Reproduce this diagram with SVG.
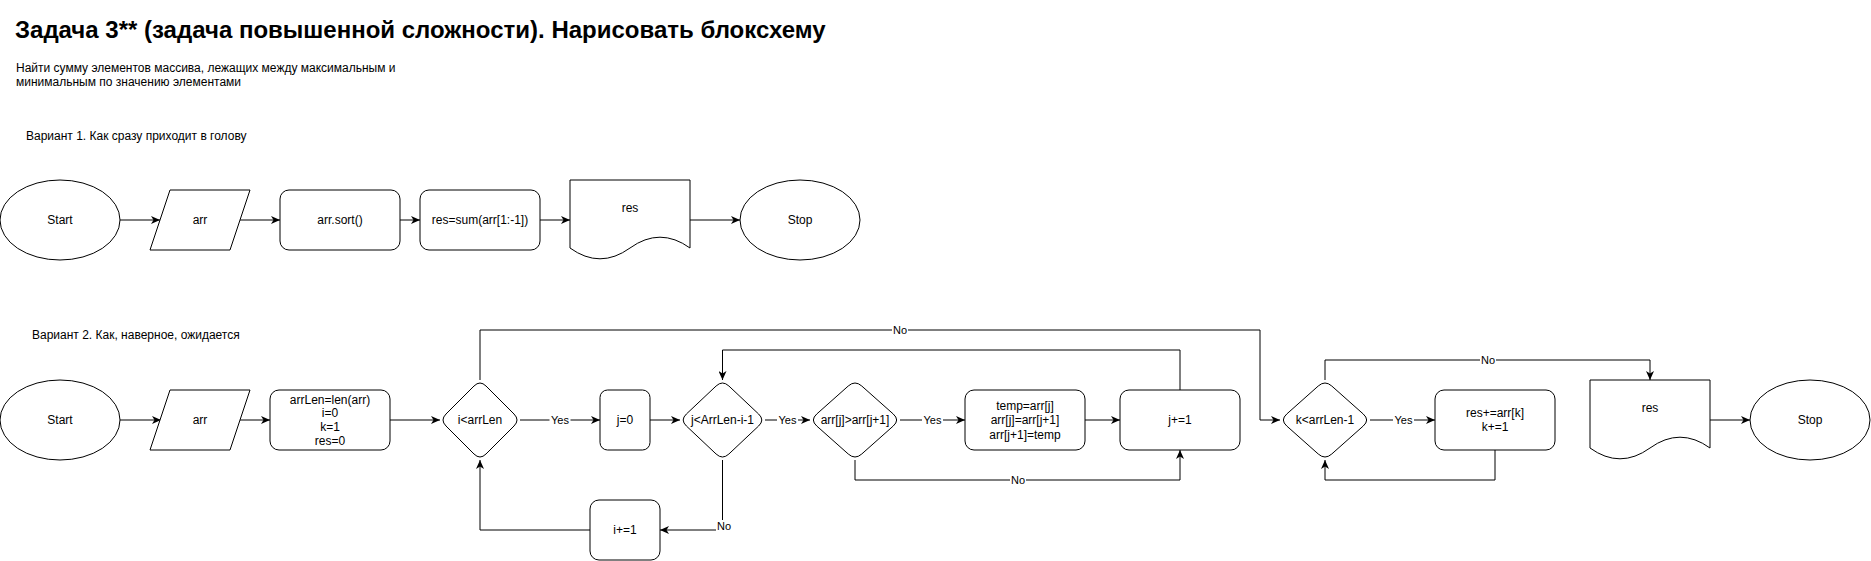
<svg xmlns="http://www.w3.org/2000/svg" width="1871" height="561" viewBox="0 0 1871 561">
<style>
.n{fill:#fff;stroke:#000;stroke-width:1}
.e{fill:none;stroke:#000;stroke-width:1}
.t{font-family:"Liberation Sans",Arial,sans-serif;font-size:12px;fill:#000;text-anchor:middle}
.l{font-family:"Liberation Sans",Arial,sans-serif;font-size:11px;fill:#000;text-anchor:middle}
.h{font-family:"Liberation Sans",Arial,sans-serif;fill:#000}
.bg{fill:#fff;stroke:none}
</style>
<defs>
<marker id="ar" viewBox="0 0 10 8" refX="9" refY="4" markerWidth="10" markerHeight="8" markerUnits="userSpaceOnUse" orient="auto">
<path d="M0,0 L9,4 L0,8 L2.5,4 Z" fill="#000"/>
</marker>
</defs>
<rect x="0" y="0" width="1871" height="561" fill="#fff"/>
<g id="texts">
<text class="h" x="15" y="38" font-size="24" font-weight="bold">Задача 3** (задача повышенной сложности). Нарисовать блоксхему</text>
<text class="h" x="16" y="72" font-size="12">Найти сумму элементов массива, лежащих между максимальным и</text>
<text class="h" x="16" y="86" font-size="12">минимальным по значению элементами</text>
<text class="h" x="26" y="140" font-size="12">Вариант 1. Как сразу приходит в голову</text>
<text class="h" x="32" y="339" font-size="12">Вариант 2. Как, наверное, ожидается</text>
</g>
<g id="connectors">
<path class="e" d="M120,220 H160" marker-end="url(#ar)"/>
<path class="e" d="M240,220 H280" marker-end="url(#ar)"/>
<path class="e" d="M400,220 H420" marker-end="url(#ar)"/>
<path class="e" d="M540,220 H570" marker-end="url(#ar)"/>
<path class="e" d="M690,220 H740" marker-end="url(#ar)"/>
<path class="e" d="M120,420 H161" marker-end="url(#ar)"/>
<path class="e" d="M240,420 H270" marker-end="url(#ar)"/>
<path class="e" d="M390,420 H440" marker-end="url(#ar)"/>
<path class="e" d="M520,420 H600" marker-end="url(#ar)"/>
<path class="e" d="M650,420 H680" marker-end="url(#ar)"/>
<path class="e" d="M765,420 H810" marker-end="url(#ar)"/>
<path class="e" d="M900,420 H965" marker-end="url(#ar)"/>
<path class="e" d="M1085,420 H1120" marker-end="url(#ar)"/>
<path class="e" d="M1180,390 V350 H722.5 V380" marker-end="url(#ar)"/>
<path class="e" d="M855,460 V480 H1180 V450" marker-end="url(#ar)"/>
<path class="e" d="M722.5,460 V530 H660" marker-end="url(#ar)"/>
<path class="e" d="M590,530 H480 V460" marker-end="url(#ar)"/>
<path class="e" d="M480,380 V330 H1260 V420 H1280" marker-end="url(#ar)"/>
<path class="e" d="M1370,420 H1435" marker-end="url(#ar)"/>
<path class="e" d="M1495,450 V480 H1325 V460" marker-end="url(#ar)"/>
<path class="e" d="M1325,380 V360 H1650 V380" marker-end="url(#ar)"/>
<path class="e" d="M1710,420 H1750" marker-end="url(#ar)"/>
<rect class="bg" x="549.5" y="414" width="21" height="12"/><text class="l" x="560" y="424">Yes</text>
<rect class="bg" x="777" y="414" width="21" height="12"/><text class="l" x="787.5" y="424">Yes</text>
<rect class="bg" x="922" y="414" width="21" height="12"/><text class="l" x="932.5" y="424">Yes</text>
<rect class="bg" x="1393" y="414" width="21" height="12"/><text class="l" x="1403.5" y="424">Yes</text>
<rect class="bg" x="1010" y="474" width="16" height="12"/><text class="l" x="1018" y="484">No</text>
<rect class="bg" x="716" y="520" width="16" height="12"/><text class="l" x="724" y="530">No</text>
<rect class="bg" x="892" y="324" width="16" height="12"/><text class="l" x="900" y="334">No</text>
<rect class="bg" x="1480" y="354" width="16" height="12"/><text class="l" x="1488" y="364">No</text>
</g>
<g id="v1-start"><ellipse class="n" cx="60" cy="220" rx="60" ry="40"/><text class="t" x="60" y="224">Start</text></g>
<g id="v1-arr"><polygon class="n" points="150,250 170,190 250,190 230,250"/><text class="t" x="200" y="224">arr</text></g>
<g id="v1-sort"><rect class="n" x="280" y="190" width="120" height="60" rx="9"/><text class="t" x="340" y="224">arr.sort()</text></g>
<g id="v1-sum"><rect class="n" x="420" y="190" width="120" height="60" rx="9"/><text class="t" x="480" y="224">res=sum(arr[1:-1])</text></g>
<g id="v1-res"><path class="n" d="M570,180 H690 V248 Q660,226.4 630,248 Q600,269.6 570,248 Z"/><text class="t" x="630" y="212">res</text></g>
<g id="v1-stop"><ellipse class="n" cx="800" cy="220" rx="60" ry="40"/><text class="t" x="800" y="224">Stop</text></g>
<g id="v2-start"><ellipse class="n" cx="60" cy="420" rx="60" ry="40"/><text class="t" x="60" y="424">Start</text></g>
<g id="v2-arr"><polygon class="n" points="150,450 170,390 250,390 230,450"/><text class="t" x="200" y="424">arr</text></g>
<g id="v2-init"><rect class="n" x="270" y="390" width="120" height="60" rx="9"/>
<text class="t" x="330" y="403.8">arrLen=len(arr)</text><text class="t" x="330" y="417.4">i=0</text><text class="t" x="330" y="431">k=1</text><text class="t" x="330" y="444.6">res=0</text></g>
<g id="v2-cond-i"><path class="n" d="M474,386 Q480,380 486,386 L514,414 Q520,420 514,426 L486,454 Q480,460 474,454 L446,426 Q440,420 446,414 Z"/><text class="t" x="480" y="424">i&lt;arrLen</text></g>
<g id="v2-j0"><rect class="n" x="600" y="390" width="50" height="60" rx="7.5"/><text class="t" x="625" y="424">j=0</text></g>
<g id="v2-cond-j"><path class="n" d="M716.1,386 Q722.5,380 728.9,386 L758.6,414 Q765,420 758.6,426 L728.9,454 Q722.5,460 716.1,454 L686.4,426 Q680,420 686.4,414 Z"/><text class="t" x="722.5" y="424">j&lt;ArrLen-i-1</text></g>
<g id="v2-cmp"><path class="n" d="M848.25,386 Q855,380 861.75,386 L893.25,414 Q900,420 893.25,426 L861.75,454 Q855,460 848.25,454 L816.75,426 Q810,420 816.75,414 Z"/><text class="t" x="855" y="424">arr[j]&gt;arr[j+1]</text></g>
<g id="v2-swap"><rect class="n" x="965" y="390" width="120" height="60" rx="9"/>
<text class="t" x="1025" y="409.8">temp=arr[j]</text><text class="t" x="1025" y="424.2">arr[j]=arr[j+1]</text><text class="t" x="1025" y="438.6">arr[j+1]=temp</text></g>
<g id="v2-jinc"><rect class="n" x="1120" y="390" width="120" height="60" rx="9"/><text class="t" x="1180" y="424">j+=1</text></g>
<g id="v2-iinc"><rect class="n" x="590" y="500" width="70" height="60" rx="9"/><text class="t" x="625" y="534">i+=1</text></g>
<g id="v2-cond-k"><path class="n" d="M1318.25,386 Q1325,380 1331.75,386 L1363.25,414 Q1370,420 1363.25,426 L1331.75,454 Q1325,460 1318.25,454 L1286.75,426 Q1280,420 1286.75,414 Z"/><text class="t" x="1325" y="424">k&lt;arrLen-1</text></g>
<g id="v2-sum"><rect class="n" x="1435" y="390" width="120" height="60" rx="9"/>
<text class="t" x="1495" y="417">res+=arr[k]</text><text class="t" x="1495" y="431.4">k+=1</text></g>
<g id="v2-res"><path class="n" d="M1590,380 H1710 V448 Q1680,426.4 1650,448 Q1620,469.6 1590,448 Z"/><text class="t" x="1650" y="412">res</text></g>
<g id="v2-stop"><ellipse class="n" cx="1810" cy="420" rx="60" ry="40"/><text class="t" x="1810" y="424">Stop</text></g>
</svg>
